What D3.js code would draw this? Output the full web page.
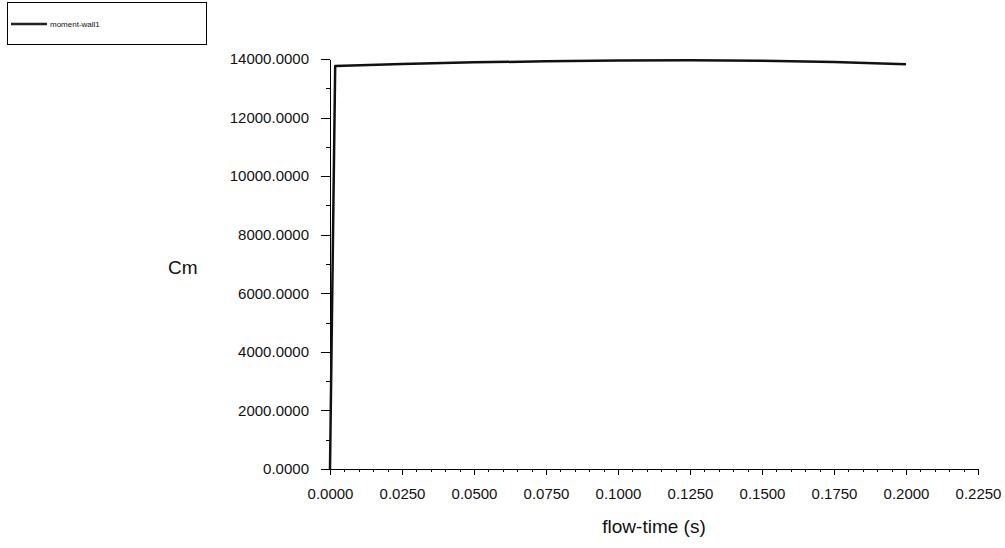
<!DOCTYPE html>
<html>
<head>
<meta charset="utf-8">
<script src="https://cdn.jsdelivr.net/npm/d3@7"></script>
<style>
    body { margin: 0; background: #fff; }
    svg text { font-family: "Liberation Sans", Arial, sans-serif; fill: #111; }
    .axis path, .axis line { stroke: #000; stroke-width: 1; shape-rendering: crispEdges; }
</style>
</head>
<body>
<script>
// values
var flowTime = [0, 0.0018, 0.025, 0.05, 0.075, 0.1, 0.125, 0.15, 0.175, 0.2];
var cmValues = [0, 13760, 13830, 13885, 13920, 13945, 13955, 13940, 13900, 13820];
var seriesName = "moment-wall1";
var xTicks = [0, 0.025, 0.05, 0.075, 0.1, 0.125, 0.15, 0.175, 0.2, 0.225];
var yTicks = [0, 2000, 4000, 6000, 8000, 10000, 12000, 14000];

(function() {
    var width = 1005,
        height = 548,
        left = 330,
        right = 978,
        top = 59,
        bottom = 469;

    var svg = d3.select("body").append("svg")
                .attr("width", width)
                .attr("height", height);

    var x = d3.scaleLinear().domain([0, 0.225]).range([left, right]);
    var y = d3.scaleLinear().domain([0, 14000]).range([bottom, top]);

    // minor ticks first so the major ones draw over them
    svg.append("g")
       .attr("class", "axis")
       .attr("transform", "translate(0," + bottom + ")")
       .call(d3.axisBottom(x).tickValues(d3.range(0, 46).map(function(i) { return i * 0.005; }))
                             .tickSize(3).tickFormat(""))
       .select(".domain").remove();

    svg.append("g")
       .attr("class", "axis")
       .attr("transform", "translate(" + left + ",0)")
       .call(d3.axisLeft(y).tickValues(d3.range(0, 15).map(function(i) { return i * 1000; }))
                           .tickSize(4).tickFormat(""))
       .select(".domain").remove();

    var xAxis = svg.append("g")
                   .attr("class", "axis")
                   .attr("transform", "translate(0," + bottom + ")")
                   .call(d3.axisBottom(x).tickValues(xTicks)
                                         .tickSize(6).tickSizeOuter(0).tickPadding(13)
                                         .tickFormat(d3.format(".4f")));
    xAxis.selectAll("text").style("font-size", "15px").attr("fill", "#111");

    var yAxis = svg.append("g")
                   .attr("class", "axis")
                   .attr("transform", "translate(" + left + ",0)")
                   .call(d3.axisLeft(y).tickValues(yTicks)
                                       .tickSize(9).tickSizeOuter(0).tickPadding(12)
                                       .tickFormat(d3.format(".4f")));
    yAxis.selectAll("text").style("font-size", "15px").attr("fill", "#111");

    var line = d3.line()
                 .x(function(d, i) { return x(flowTime[i]); })
                 .y(function(d) { return y(d); });

    svg.append("path")
       .datum(cmValues)
       .attr("d", line)
       .attr("fill", "none")
       .attr("stroke", "#111")
       .attr("stroke-width", 2.5)
       .attr("stroke-linejoin", "round");

    // axis titles
    svg.append("text")
       .attr("x", (left + right) / 2)
       .attr("y", 533)
       .attr("text-anchor", "middle")
       .style("font-size", "19px")
       .text("flow-time (s)");

    svg.append("text")
       .attr("x", 168)
       .attr("y", 274)
       .style("font-size", "19px")
       .text("Cm");

    // legend box
    var legend = svg.append("g");
    legend.append("rect")
          .attr("x", 7.5)
          .attr("y", 2.5)
          .attr("width", 199)
          .attr("height", 42)
          .attr("fill", "none")
          .attr("stroke", "#000");
    legend.append("line")
          .attr("x1", 11)
          .attr("x2", 47)
          .attr("y1", 24)
          .attr("y2", 24)
          .attr("stroke", "#222")
          .attr("stroke-width", 2.5);
    legend.append("text")
          .attr("x", 50)
          .attr("y", 27)
          .style("font-size", "8px")
          .text(seriesName);
})();
</script>
</body>
</html>
